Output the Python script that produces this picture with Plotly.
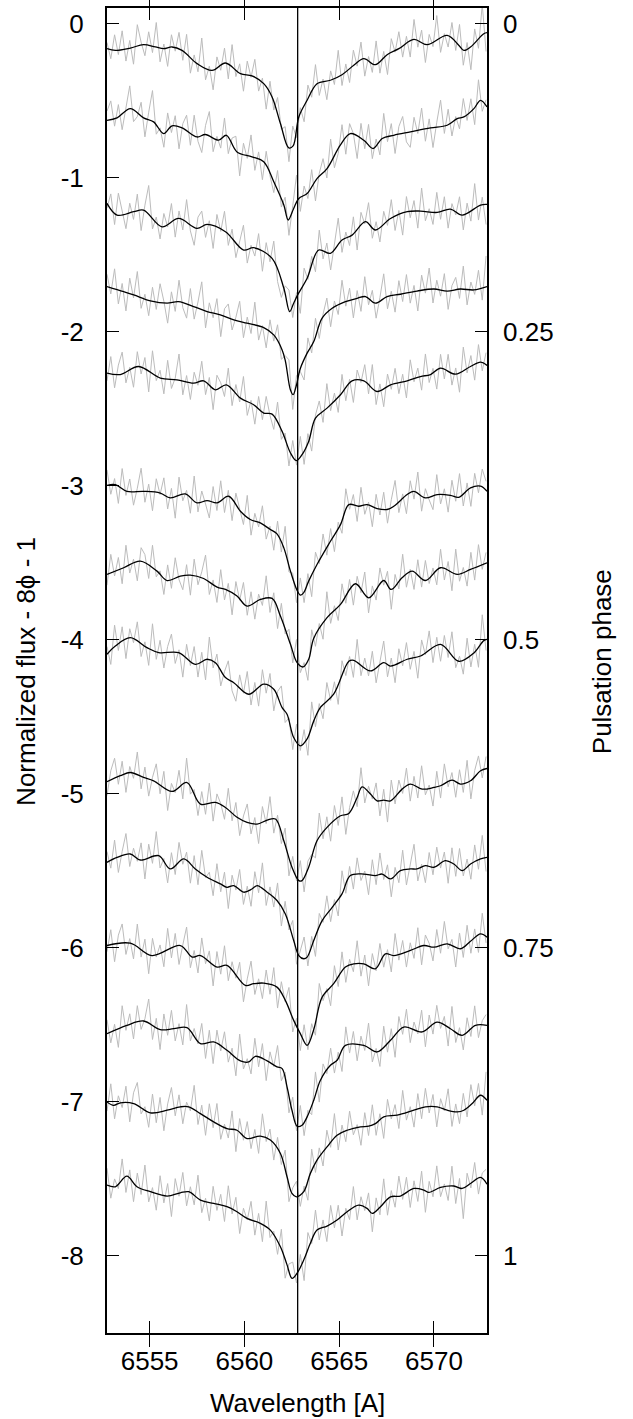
import numpy as np
import plotly.graph_objects as go

# ---------------- data ----------------
H_ALPHA = 6562.81          # rest wavelength of the reference line [A]
GRAY_START = 6552.75       # first wavelength of the observed (gray) spectra
GRAY_STEP = 0.2            # sampling of the observed spectra [A]

x_tickvals = [6555, 6560, 6565, 6570]
x_ticktext = ["6555", "6560", "6565", "6570"]
y_tickvals = [0, -1, -2, -3, -4, -5, -6, -7, -8]
y_ticktext = ["0", "-1", "-2", "-3", "-4", "-5", "-6", "-7", "-8"]
phase_tickvals = [0, -2, -4, -6, -8]
phase_ticktext = ["0", "0.25", "0.5", "0.75", "1"]

# smoothed (black) spectra: wavelength nodes and offset flux
s01_wl = [6552.75, 6553.19, 6553.98, 6554.68, 6555.30, 6555.74, 6556.18, 6556.71, 6557.50, 6558.29, 6559.00, 6559.79, 6560.40, 6561.02, 6561.46, 6561.90, 6562.34, 6562.57, 6562.87, 6563.31, 6563.83, 6564.54, 6565.15, 6565.77, 6566.30, 6566.91, 6567.53, 6568.15, 6568.94, 6569.64, 6570.70, 6571.32, 6571.58, 6571.93, 6572.63, 6572.80]
s01_fit = [-0.164, -0.175, -0.160, -0.138, -0.153, -0.164, -0.153, -0.175, -0.261, -0.305, -0.257, -0.326, -0.341, -0.391, -0.477, -0.650, -0.808, -0.795, -0.607, -0.499, -0.391, -0.369, -0.333, -0.272, -0.229, -0.268, -0.203, -0.164, -0.104, -0.138, -0.078, -0.143, -0.175, -0.153, -0.067, -0.060]

s02_wl = [6552.75, 6553.28, 6553.98, 6554.68, 6555.21, 6555.74, 6556.18, 6556.71, 6557.50, 6557.94, 6558.64, 6559.05, 6559.61, 6560.40, 6561.02, 6561.55, 6562.08, 6562.31, 6562.60, 6562.87, 6563.31, 6563.83, 6564.36, 6565.06, 6565.59, 6566.30, 6566.79, 6567.27, 6567.88, 6568.76, 6569.82, 6570.70, 6571.23, 6571.58, 6572.11, 6572.46, 6572.80]
s02_fit = [-0.629, -0.613, -0.553, -0.613, -0.639, -0.715, -0.665, -0.678, -0.737, -0.721, -0.758, -0.726, -0.834, -0.866, -0.898, -1.028, -1.179, -1.276, -1.201, -1.136, -1.104, -1.007, -0.942, -0.790, -0.715, -0.758, -0.812, -0.747, -0.726, -0.704, -0.678, -0.661, -0.618, -0.607, -0.553, -0.499, -0.542]

s03_wl = [6552.75, 6553.28, 6554.16, 6554.68, 6555.65, 6556.53, 6557.50, 6558.03, 6559.00, 6559.96, 6560.49, 6561.46, 6562.08, 6562.39, 6562.60, 6562.81, 6563.31, 6563.92, 6564.54, 6565.15, 6565.68, 6566.39, 6566.91, 6567.71, 6568.59, 6569.29, 6570.17, 6570.87, 6571.49, 6572.46, 6572.80]
s03_fit = [-1.168, -1.244, -1.222, -1.212, -1.320, -1.266, -1.330, -1.305, -1.352, -1.471, -1.456, -1.525, -1.719, -1.870, -1.816, -1.762, -1.654, -1.471, -1.492, -1.406, -1.374, -1.287, -1.341, -1.266, -1.222, -1.218, -1.227, -1.205, -1.244, -1.179, -1.175]

s04_wl = [6552.75, 6553.63, 6554.16, 6555.04, 6555.92, 6556.53, 6557.32, 6558.03, 6558.73, 6559.44, 6560.14, 6561.02, 6561.55, 6561.99, 6562.16, 6562.43, 6562.57, 6562.74, 6562.95, 6563.31, 6563.66, 6564.10, 6564.63, 6565.33, 6565.95, 6566.39, 6566.91, 6567.53, 6568.23, 6569.11, 6570.00, 6570.70, 6571.40, 6572.11, 6572.80]
s04_fit = [-1.708, -1.741, -1.762, -1.801, -1.816, -1.806, -1.838, -1.870, -1.892, -1.924, -1.946, -1.974, -2.022, -2.119, -2.190, -2.380, -2.410, -2.350, -2.240, -2.140, -2.065, -1.913, -1.849, -1.806, -1.784, -1.773, -1.816, -1.773, -1.758, -1.737, -1.724, -1.737, -1.724, -1.730, -1.708]

s05_wl = [6552.75, 6553.45, 6554.42, 6555.56, 6556.44, 6557.32, 6557.85, 6558.47, 6559.05, 6559.79, 6560.49, 6561.02, 6561.46, 6561.99, 6562.43, 6562.74, 6563.04, 6563.39, 6563.75, 6564.36, 6565.07, 6565.68, 6566.30, 6567.00, 6567.71, 6568.59, 6569.29, 6569.82, 6570.35, 6571.14, 6571.93, 6572.46, 6572.80]
s05_fit = [-2.270, -2.279, -2.227, -2.302, -2.313, -2.335, -2.320, -2.378, -2.346, -2.432, -2.475, -2.529, -2.536, -2.648, -2.788, -2.838, -2.799, -2.713, -2.562, -2.497, -2.410, -2.320, -2.320, -2.389, -2.346, -2.320, -2.292, -2.279, -2.238, -2.277, -2.227, -2.199, -2.220]

s06_wl = [6552.75, 6553.19, 6553.80, 6554.68, 6555.56, 6556.09, 6556.88, 6557.50, 6558.03, 6558.56, 6559.17, 6559.79, 6560.31, 6560.84, 6561.37, 6561.72, 6562.08, 6562.43, 6562.78, 6562.96, 6563.13, 6563.39, 6563.83, 6564.54, 6565.07, 6565.51, 6566.03, 6566.47, 6567.00, 6567.53, 6567.88, 6568.59, 6568.94, 6569.55, 6570.17, 6570.87, 6571.31, 6571.93, 6572.46, 6572.80]
s06_fit = [-2.998, -2.994, -3.037, -3.037, -3.048, -3.080, -3.054, -3.112, -3.097, -3.112, -3.069, -3.166, -3.220, -3.242, -3.285, -3.313, -3.404, -3.555, -3.680, -3.711, -3.695, -3.620, -3.512, -3.361, -3.253, -3.123, -3.134, -3.123, -3.149, -3.155, -3.134, -3.058, -3.037, -3.080, -3.058, -3.063, -3.076, -3.015, -3.004, -3.037]

s07_wl = [6552.75, 6553.63, 6554.51, 6555.39, 6555.92, 6556.62, 6557.15, 6557.85, 6558.56, 6559.00, 6559.61, 6560.14, 6560.84, 6561.46, 6561.90, 6562.43, 6562.78, 6563.10, 6563.39, 6563.66, 6564.36, 6565.07, 6565.86, 6566.56, 6567.35, 6567.74, 6568.32, 6568.85, 6569.55, 6570.35, 6571.23, 6571.93, 6572.80]
s07_fit = [-3.576, -3.533, -3.490, -3.555, -3.616, -3.587, -3.581, -3.603, -3.659, -3.674, -3.717, -3.782, -3.739, -3.732, -3.847, -4.030, -4.149, -4.177, -4.127, -3.990, -3.857, -3.771, -3.637, -3.728, -3.616, -3.674, -3.598, -3.555, -3.616, -3.533, -3.576, -3.544, -3.501]

s08_wl = [6552.75, 6553.19, 6553.98, 6554.86, 6555.48, 6556.53, 6557.41, 6558.03, 6558.47, 6559.00, 6559.44, 6560.23, 6561.02, 6561.55, 6561.99, 6562.25, 6562.60, 6562.95, 6563.31, 6563.66, 6564.01, 6564.71, 6565.51, 6565.77, 6566.65, 6567.35, 6567.71, 6568.59, 6569.29, 6570.35, 6571.31, 6572.11, 6572.63, 6572.80]
s08_fit = [-4.095, -4.041, -3.987, -4.052, -4.084, -4.084, -4.160, -4.127, -4.149, -4.246, -4.279, -4.354, -4.289, -4.322, -4.441, -4.484, -4.635, -4.689, -4.644, -4.527, -4.440, -4.354, -4.140, -4.134, -4.203, -4.149, -4.171, -4.127, -4.106, -4.030, -4.140, -4.086, -4.006, -3.998]

s09_wl = [6552.75, 6553.45, 6553.98, 6554.68, 6555.21, 6556.18, 6556.97, 6557.68, 6558.47, 6559.00, 6559.61, 6560.14, 6560.67, 6561.20, 6561.64, 6562.08, 6562.51, 6562.87, 6563.04, 6563.39, 6563.83, 6564.36, 6565.07, 6565.51, 6565.95, 6566.21, 6566.65, 6567.00, 6567.35, 6567.71, 6568.32, 6568.76, 6569.38, 6570.00, 6570.35, 6570.96, 6571.40, 6571.93, 6572.46, 6572.80]
s09_fit = [-4.922, -4.883, -4.862, -4.894, -4.916, -4.985, -4.927, -5.067, -5.056, -5.089, -5.153, -5.186, -5.197, -5.171, -5.164, -5.305, -5.477, -5.564, -5.564, -5.477, -5.305, -5.218, -5.143, -5.128, -5.024, -4.955, -5.002, -5.046, -5.041, -5.046, -4.970, -4.937, -4.970, -4.959, -4.948, -4.912, -4.937, -4.916, -4.851, -4.836]

s10_wl = [6552.75, 6553.28, 6553.98, 6554.51, 6555.48, 6556.09, 6556.80, 6557.41, 6558.03, 6558.73, 6559.08, 6559.44, 6559.96, 6560.40, 6560.67, 6561.20, 6561.72, 6562.16, 6562.60, 6562.87, 6563.13, 6563.31, 6563.66, 6564.10, 6564.63, 6565.15, 6565.59, 6566.30, 6566.91, 6567.27, 6567.71, 6568.23, 6568.76, 6569.11, 6569.55, 6570.00, 6570.61, 6571.05, 6571.49, 6571.93, 6572.46, 6572.80]
s10_fit = [-5.445, -5.413, -5.391, -5.430, -5.402, -5.488, -5.423, -5.488, -5.542, -5.585, -5.607, -5.596, -5.639, -5.618, -5.596, -5.639, -5.693, -5.780, -5.952, -6.050, -6.071, -6.060, -5.952, -5.823, -5.737, -5.650, -5.531, -5.521, -5.531, -5.521, -5.553, -5.499, -5.488, -5.488, -5.467, -5.477, -5.434, -5.456, -5.499, -5.456, -5.423, -5.413]

s11_wl = [6552.75, 6553.98, 6555.12, 6556.62, 6557.24, 6557.68, 6558.56, 6559.08, 6560.05, 6560.49, 6561.02, 6561.72, 6562.16, 6562.60, 6562.95, 6563.31, 6563.66, 6564.10, 6564.71, 6565.33, 6565.77, 6566.30, 6566.91, 6567.44, 6567.88, 6568.76, 6569.47, 6570.00, 6570.70, 6571.40, 6571.93, 6572.46, 6572.80]
s11_fit = [-5.985, -5.970, -6.050, -5.985, -6.060, -6.050, -6.125, -6.114, -6.244, -6.233, -6.229, -6.255, -6.341, -6.471, -6.557, -6.633, -6.530, -6.320, -6.233, -6.125, -6.104, -6.104, -6.136, -6.039, -6.050, -6.017, -5.985, -5.996, -5.974, -6.006, -5.957, -5.910, -5.931]

s12_wl = [6552.75, 6553.80, 6554.68, 6555.56, 6556.27, 6556.97, 6557.68, 6558.38, 6559.08, 6559.79, 6560.23, 6560.58, 6561.20, 6561.72, 6561.99, 6562.25, 6562.51, 6562.78, 6563.04, 6563.31, 6563.66, 6564.01, 6564.54, 6564.89, 6565.33, 6566.30, 6567.00, 6567.71, 6568.41, 6569.38, 6570.17, 6570.87, 6571.49, 6572.19, 6572.80]
s12_fit = [-6.557, -6.503, -6.475, -6.531, -6.525, -6.518, -6.622, -6.611, -6.665, -6.734, -6.741, -6.704, -6.734, -6.773, -6.784, -6.903, -7.054, -7.158, -7.151, -7.097, -6.989, -6.859, -6.762, -6.730, -6.633, -6.633, -6.676, -6.600, -6.514, -6.546, -6.482, -6.525, -6.568, -6.503, -6.503]

s13_wl = [6552.75, 6553.10, 6553.45, 6554.16, 6555.04, 6555.92, 6556.62, 6557.06, 6557.68, 6558.38, 6559.08, 6559.61, 6560.14, 6560.84, 6561.37, 6561.90, 6562.25, 6562.51, 6562.74, 6563.13, 6563.48, 6563.83, 6564.36, 6564.89, 6565.42, 6566.12, 6566.56, 6566.91, 6567.35, 6568.06, 6568.94, 6569.55, 6570.17, 6570.70, 6571.23, 6571.58, 6572.02, 6572.46, 6572.80]
s13_fit = [-7.000, -7.022, -7.006, -7.011, -7.071, -7.054, -7.032, -7.032, -7.076, -7.130, -7.173, -7.184, -7.238, -7.222, -7.248, -7.335, -7.486, -7.594, -7.616, -7.583, -7.464, -7.378, -7.292, -7.216, -7.184, -7.162, -7.158, -7.141, -7.097, -7.086, -7.054, -7.032, -7.032, -7.054, -7.065, -7.054, -7.011, -6.957, -6.990]

s14_wl = [6552.75, 6553.19, 6553.80, 6554.33, 6555.04, 6555.92, 6556.62, 6557.06, 6557.68, 6558.38, 6559.08, 6559.61, 6560.14, 6560.84, 6561.37, 6561.90, 6562.25, 6562.51, 6562.78, 6563.13, 6563.48, 6563.83, 6564.36, 6564.89, 6565.42, 6566.03, 6566.47, 6566.74, 6567.18, 6567.71, 6568.23, 6568.94, 6569.47, 6569.73, 6570.35, 6571.05, 6571.49, 6571.93, 6572.46, 6572.80]
s14_fit = [-7.540, -7.551, -7.482, -7.551, -7.583, -7.611, -7.590, -7.583, -7.637, -7.659, -7.680, -7.713, -7.756, -7.788, -7.832, -7.940, -8.058, -8.145, -8.112, -8.026, -7.918, -7.832, -7.806, -7.767, -7.713, -7.670, -7.691, -7.724, -7.680, -7.616, -7.611, -7.562, -7.572, -7.587, -7.555, -7.546, -7.562, -7.530, -7.490, -7.534]

# observed (gray) spectra: residuals from the smoothed curve, in units of 0.01,
# sampled every GRAY_STEP starting at GRAY_START
s01_noise = [4,-6,10,-3,12,-8,5,-11,14,2,-7,9,-4,16,-9,3,-12,8,-2,11,-6,13,-10,4,-5,18,-8,2,-13,7,-3,10,-9,15,-4,6,-11,9,-1,12,-7,3,-14,8,-5,11,-2,7,-9,13,-6,4,-10,9,-3,14,-8,2,-12,6,-4,17,-7,5,-9,10,-2,12,-11,3,-6,15,-8,4,-13,9,-1,11,-7,5,-10,13,-4,8,-12,6,-3,16,-9,2,-7,11,-5,14,-10,4,-15,9,-6,20,-12]
s02_noise = [6,12,-5,8,-10,3,15,-7,-2,9,-12,5,20,-6,1,-9,11,-4,7,-14,3,10,-8,13,-3,-11,6,16,-9,2,-6,12,-10,4,9,-15,7,-2,14,-8,5,-12,10,-1,-7,13,-5,8,-11,3,18,-9,6,-4,11,-13,2,9,-6,15,-8,-3,12,-10,7,1,-14,10,-5,13,-7,4,-9,16,-3,8,-12,5,11,-6,-10,9,-2,14,-8,6,-13,3,17,-5,10,-9,2,-7,12,-4,8,-11,15,-6,4]
s03_noise = [-3,9,-8,14,2,-10,6,-5,11,-13,4,19,-7,3,-9,8,-2,12,-11,5,-6,15,-4,-12,7,10,-8,3,-14,9,-1,13,-7,6,-10,4,16,-9,2,-5,11,-12,8,-3,14,-6,-10,5,12,-8,3,-15,10,-2,7,-9,13,-5,6,-11,2,17,-8,4,-6,11,-13,9,-1,14,-7,5,-10,8,-3,12,-9,3,-14,10,-4,7,-11,15,-6,2,-8,13,-5,9,-12,4,-2,11,-10,6,-7,16,-9,5,-13]
s04_noise = [8,-4,13,-9,5,-12,10,-2,16,-7,3,-10,9,-5,12,1,-13,7,-6,14,-3,-9,11,-8,4,18,-11,6,-3,10,-14,5,9,-7,2,13,-10,4,-6,15,-9,1,-12,8,-4,11,-7,3,14,-10,6,-2,-13,9,-5,12,-8,2,10,-11,4,-6,15,-3,8,-12,5,-9,13,-4,7,-10,2,16,-8,3,-11,9,-5,12,-7,4,-13,10,-2,14,-9,6,-4,11,-12,3,8,-6,15,-10,5,-3,12,-8,20]
s05_noise = [-5,11,-9,6,14,-7,2,-12,10,-4,8,-13,15,-3,5,-10,12,-6,1,17,-9,4,-11,7,-2,13,-8,5,-14,9,3,-7,12,-10,6,-3,15,-9,2,-12,8,-5,11,-1,-8,14,-6,4,-11,10,-3,13,-9,6,-13,2,9,-7,16,-4,5,-10,12,-8,3,-14,7,-1,11,-6,15,-9,4,-12,8,-3,10,-7,5,-11,13,-2,6,-9,14,-5,3,-12,9,-6,11,-8,4,-13,15,-3,7,-10,12,-5,8]
s06_noise = [10,-6,4,-11,13,-3,8,-9,2,15,-7,5,-12,9,-1,11,-8,6,-14,12,-4,3,-10,16,-6,7,-2,-11,10,-5,13,-9,4,-13,8,1,-7,14,-10,5,-3,12,-8,2,-12,9,-6,17,-4,3,-9,11,-7,6,-14,10,-2,13,-5,8,-11,4,-8,15,-3,7,-10,12,-6,2,-13,9,-4,11,-9,5,16,-7,3,-12,8,-5,14,-10,6,-2,-9,13,-6,4,-11,10,-3,15,-8,5,-12,9,-4,12,6]
s07_noise = [-7,12,-3,8,-10,14,-5,3,-12,9,6,-8,15,-4,2,-11,10,-6,13,-2,-9,7,-13,11,-5,4,16,-8,3,-10,12,-7,5,-14,9,-1,13,-6,8,-11,4,-4,15,-9,6,-12,10,-3,7,-8,14,-5,2,-13,11,-7,4,-10,17,-6,3,-9,12,-4,8,-12,6,-2,14,-10,5,-7,11,-3,9,-13,7,-5,15,-8,2,-11,10,-6,13,-4,4,-9,12,-7,6,-12,16,-5,3,-10,11,-8,14,-3,7]
s08_noise = [5,-9,14,-4,10,-12,6,-2,13,-8,3,-11,17,-5,8,-10,4,12,-7,2,-14,9,-3,11,-9,6,-13,15,-4,7,-10,3,12,-6,-11,8,-2,14,-8,5,-12,10,-5,9,-14,4,13,-7,2,-10,11,-3,8,-12,16,-6,4,-9,12,-2,7,-13,10,-5,3,-11,15,-7,6,-4,12,-10,2,14,-8,5,-12,9,-3,11,-7,4,-14,10,-1,13,-9,6,-11,8,-4,15,-6,3,-10,12,-8,5,-13,18,-7]
s09_noise = [-9,6,13,-5,9,-12,4,-3,15,-8,7,-11,2,12,-6,10,-14,5,-2,11,-9,16,-4,3,-10,8,-7,13,-12,6,1,-8,14,-5,9,-11,3,12,-7,4,-13,10,-2,15,-9,6,-6,11,-12,8,-3,13,-10,5,2,-8,16,-4,7,-11,10,-5,12,-13,3,9,-6,14,-9,4,-2,11,-10,7,-14,13,-5,8,-3,12,-11,6,-7,15,-4,2,-12,10,-8,13,-3,5,-10,9,-6,14,-12,4,11,-5,8]
s10_noise = [7,-5,12,-10,3,14,-8,5,-2,11,-13,9,-4,16,-7,2,-11,10,-6,13,-3,6,-12,8,-9,15,-1,4,-10,12,-5,9,-14,7,-2,13,-8,3,-11,10,-4,17,-9,5,-6,12,-12,8,-3,11,-10,4,14,-7,6,-13,9,-2,12,-8,3,-11,15,-5,7,-9,11,-4,2,-13,10,-6,14,-3,8,-12,5,-7,13,-10,4,16,-8,2,-11,9,-5,12,-3,6,-14,10,-7,13,-4,5,-10,11,-6,15,-9]
s11_noise = [-4,10,-11,6,13,-7,3,-9,15,-5,8,-13,11,-2,5,-10,14,-6,9,-12,2,16,-8,4,-11,12,-3,7,-14,10,-5,13,-9,6,-2,11,-12,4,15,-7,3,-10,9,-6,12,-13,8,-1,14,-9,5,-11,10,-4,7,-8,16,-3,2,-12,11,-6,13,-10,4,-5,15,-8,6,-13,9,-2,12,-7,3,-11,14,-4,8,-10,5,-6,13,-12,7,2,-9,11,-5,15,-3,4,-13,10,-7,12,-8,6,-11,14,-4]
s12_noise = [9,-7,4,-12,14,-3,7,-10,11,-5,2,16,-9,6,-13,10,-4,12,-8,3,-11,15,-6,5,-2,13,-10,8,-14,9,-3,11,-7,4,-12,17,-5,2,-9,12,-6,10,-13,7,-1,14,-8,5,-11,10,-4,13,-9,3,-6,15,-12,8,-2,11,-7,4,-13,12,-5,9,-10,6,-3,16,-8,2,-11,13,-6,7,-14,10,-4,12,-9,5,-2,14,-11,8,-6,11,-3,6,-12,15,-7,4,-10,9,-5,13,-8,3,7]
s13_noise = [-6,13,-9,5,-3,11,-12,7,15,-4,2,-10,12,-7,9,-13,4,14,-5,8,-11,3,-2,16,-8,6,-12,10,-4,13,-9,2,-6,12,-14,9,-3,11,-7,5,-11,15,-2,7,-10,8,-5,13,-12,4,10,-8,3,-13,14,-6,6,-9,11,-3,16,-10,5,-7,12,-4,2,-12,9,-6,13,-8,4,-14,11,-2,7,-9,15,-5,3,-11,10,-7,12,-4,8,-13,6,-1,14,-10,5,-8,11,-6,13,-3,9,-12,18]
s14_noise = [11,-8,5,-3,14,-10,6,-12,9,-4,16,-7,3,-11,12,-5,8,-14,10,-2,13,-9,4,-6,15,-8,2,-12,11,-4,7,-10,14,-3,9,-13,5,-1,12,-9,6,-11,17,-5,3,-8,13,-12,4,10,-6,8,-14,11,-2,15,-7,5,-10,12,-4,9,-13,3,-6,14,-9,6,-2,11,-12,8,-5,16,-10,4,-7,13,-3,10,-11,5,-8,12,-14,7,-4,15,-6,2,-9,13,-11,6,-20,8,-3,12,-10,4,9]

spectra = [
    (s01_wl, s01_fit, s01_noise), (s02_wl, s02_fit, s02_noise),
    (s03_wl, s03_fit, s03_noise), (s04_wl, s04_fit, s04_noise),
    (s05_wl, s05_fit, s05_noise), (s06_wl, s06_fit, s06_noise),
    (s07_wl, s07_fit, s07_noise), (s08_wl, s08_fit, s08_noise),
    (s09_wl, s09_fit, s09_noise), (s10_wl, s10_fit, s10_noise),
    (s11_wl, s11_fit, s11_noise), (s12_wl, s12_fit, s12_noise),
    (s13_wl, s13_fit, s13_noise), (s14_wl, s14_fit, s14_noise),
]

X_RANGE = [6552.75, 6572.8]
Y_RANGE = [-8.5, 0.1]

# ---------------- figure ----------------
FONT = "Liberation Sans, Arial, Helvetica, sans-serif"
fig = go.Figure()

black = []
for wl, fit, noise in spectra:
    n = min(len(wl), len(fit))
    wl_a = np.array(wl[:n], dtype=float)
    fit_a = np.array(fit[:n], dtype=float)
    gw = GRAY_START + GRAY_STEP * np.arange(len(noise))
    keep = gw <= X_RANGE[1] + 1e-9
    gw = gw[keep]
    gy = np.interp(gw, wl_a, fit_a) + 0.01 * np.array(noise, dtype=float)[keep]
    fig.add_trace(go.Scatter(x=gw, y=gy, mode="lines",
                             line=dict(color="rgb(188,188,188)", width=1),
                             hoverinfo="skip", showlegend=False))
    black.append((wl_a, fit_a))

for wl_a, fit_a in black:
    fig.add_trace(go.Scatter(x=wl_a, y=fit_a, mode="lines",
                             line=dict(color="black", width=1.3, shape="spline", smoothing=1.0),
                             hoverinfo="skip", showlegend=False))

# dummy trace for the right-hand phase axis
fig.add_trace(go.Scatter(x=[H_ALPHA], y=[0], yaxis="y2", mode="markers",
                         marker=dict(opacity=0), hoverinfo="skip", showlegend=False))

fig.add_shape(type="line", xref="x", yref="paper", x0=H_ALPHA, x1=H_ALPHA, y0=0, y1=1,
              line=dict(color="black", width=1.3))

tickfont = dict(family=FONT, size=26, color="black")
fig.update_layout(
    width=633, height=1419,
    margin=dict(l=107, r=146, t=6, b=86),
    paper_bgcolor="white", plot_bgcolor="white",
    showlegend=False,
    xaxis=dict(range=X_RANGE, tickvals=x_tickvals, ticktext=x_ticktext,
               ticks="inside", ticklen=12, tickwidth=1.3, tickcolor="black",
               showline=True, linewidth=2, linecolor="black", mirror="allticks",
               showgrid=False, zeroline=False, tickfont=tickfont,
               ticklabelstandoff=4),
    yaxis=dict(range=Y_RANGE, tickvals=y_tickvals, ticktext=y_ticktext,
               ticks="inside", ticklen=12, tickwidth=1.3, tickcolor="black",
               showline=True, linewidth=2, linecolor="black", mirror=True,
               showgrid=False, zeroline=False, tickfont=tickfont,
               ticklabelstandoff=16),
    yaxis2=dict(range=Y_RANGE, overlaying="y", side="right",
                tickvals=phase_tickvals, ticktext=phase_ticktext,
                ticks="inside", ticklen=12, tickwidth=1.3, tickcolor="black",
                showline=False, showgrid=False, zeroline=False, tickfont=tickfont,
                ticklabelstandoff=15),
    annotations=[
        dict(text="Wavelength [A]", xref="paper", yref="paper", x=0.5, y=-0.0528,
             xanchor="center", yanchor="middle", showarrow=False,
             font=dict(family=FONT, size=26, color="black")),
        dict(text="Normalized flux - 8\u03d5 - 1", xref="paper", yref="paper",
             x=-0.213, y=0.499, textangle=-90, xanchor="center", yanchor="middle",
             showarrow=False, font=dict(family=FONT, size=26, color="black")),
        dict(text="Pulsation phase", xref="paper", yref="paper",
             x=1.3026, y=0.507, textangle=-90, xanchor="center", yanchor="middle",
             showarrow=False, font=dict(family=FONT, size=26, color="black")),
    ],
)

fig.write_html("out.html", config={"displayModeBar": False},
               post_script="document.body.style.margin='0px';")
